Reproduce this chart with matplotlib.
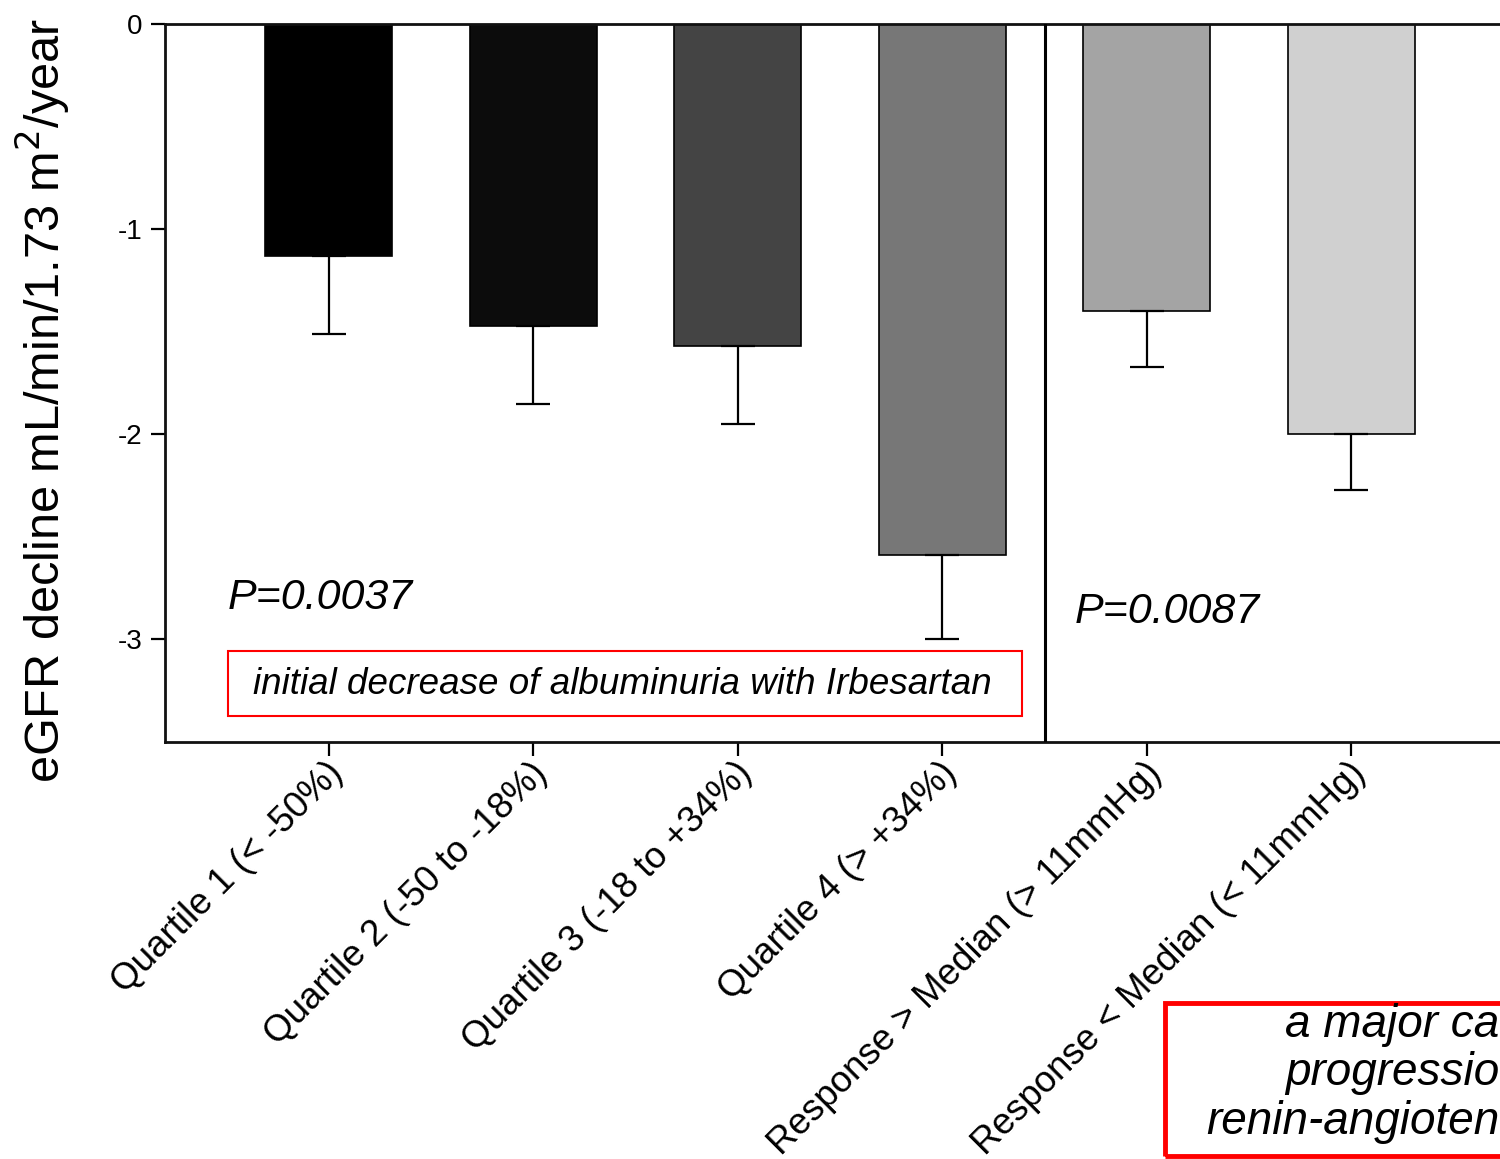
import matplotlib
matplotlib.use("Agg")
import matplotlib.pyplot as plt
import matplotlib.transforms as mtransforms
import numpy as np
from matplotlib.patches import Rectangle

plt.rcParams['font.family'] = ['Liberation Sans', 'DejaVu Sans']
plt.rcParams['axes.unicode_minus'] = False

# data
categories = ['Quartile 1 (< -50%)', 'Quartile 2 (-50 to -18%)', 'Quartile 3 (-18 to +34%)',
              'Quartile 4 (> +34%)', 'Response > Median (> 11mmHg)', 'Response < Median (< 11mmHg)']
decline = [-1.13, -1.47, -1.57, -2.59, -1.40, -2.00]
err_low = [0.38, 0.38, 0.38, 0.41, 0.27, 0.27]
bar_colors = ['#000000', '#0c0c0c', '#444444', '#777777', '#a4a4a4', '#d0d0d0']
y_ticks = [0, -1, -2, -3]
p_values = ['P=0.0037', 'P=0.0087']
note_lines = ['a major ca', 'progressio', 'renin-angioten']

fig = plt.figure(figsize=(15, 11.59), dpi=100)
ax = fig.add_axes([165 / 1500, 1 - 742 / 1159, 1350 / 1500, 718 / 1159])

x = np.arange(len(categories))
ax.bar(x, decline, width=0.62, color=bar_colors, edgecolor='black', linewidth=1.2, zorder=2)
ax.errorbar(x, decline, yerr=[err_low, [0] * len(x)], fmt='none', ecolor='black',
            elinewidth=1.6, capsize=12, capthick=1.6, zorder=3)

# divider between the two groups
ax.axvline(3.5, color='black', linewidth=2.2, zorder=4)

ax.set_xlim(-0.8, 5.8)
ax.set_ylim(-3.5, 0)
ax.set_yticks(y_ticks)
ax.set_yticklabels([str(v) for v in y_ticks], fontsize=20)
ax.set_xticks(x)
ax.set_xticklabels([])

# rotated category labels, anchored just below each tick
lab_tr = ax.get_xaxis_transform() + mtransforms.ScaledTranslation(0.09, -0.26, fig.dpi_scale_trans)
for xi, name in zip(x, categories):
    ax.text(xi, 0, name, transform=lab_tr, fontsize=26.5, rotation=45, ha='right',
            va='center', rotation_mode='anchor', clip_on=False)

ax.tick_params(axis='both', direction='out', length=10, width=1.6, color='black')
ax.tick_params(axis='y', pad=6)
for s in ['left', 'bottom', 'top']:
    ax.spines[s].set_linewidth(2)
    ax.spines[s].set_color('#111111')
ax.spines['right'].set_visible(False)

ax.set_ylabel('eGFR decline mL/min/1.73 m$^2$/year', fontsize=35)
ax.yaxis.set_label_coords(-0.069, 0.476)

# annotations
fig.text(228 / 1500, 1 - 598 / 1159, p_values[0], fontsize=31,
         style='italic', va='center', ha='left')
fig.text(1075 / 1500, 1 - 612 / 1159, p_values[1], fontsize=31,
         style='italic', va='center', ha='left')

fig.patches.append(Rectangle((228 / 1500, 1 - 716 / 1159), 794 / 1500, 65 / 1159,
                             transform=fig.transFigure, fill=False, edgecolor='#ff0000',
                             linewidth=1.5))
fig.text(622 / 1500, 1 - 684 / 1159, 'initial decrease of albuminuria with Irbesartan',
         fontsize=26.5, style='italic', ha='center', va='center')

fig.patches.append(Rectangle((1165 / 1500, 1 - 1156 / 1159), 400 / 1500, 153 / 1159,
                             transform=fig.transFigure, fill=False, edgecolor='#ff0000',
                             linewidth=3.5))
for line, ypx in zip(note_lines, [1025, 1073, 1122]):
    fig.text(1499 / 1500, 1 - ypx / 1159, line, fontsize=33, style='italic',
             ha='right', va='center')

fig.savefig('out.png', dpi=100)
